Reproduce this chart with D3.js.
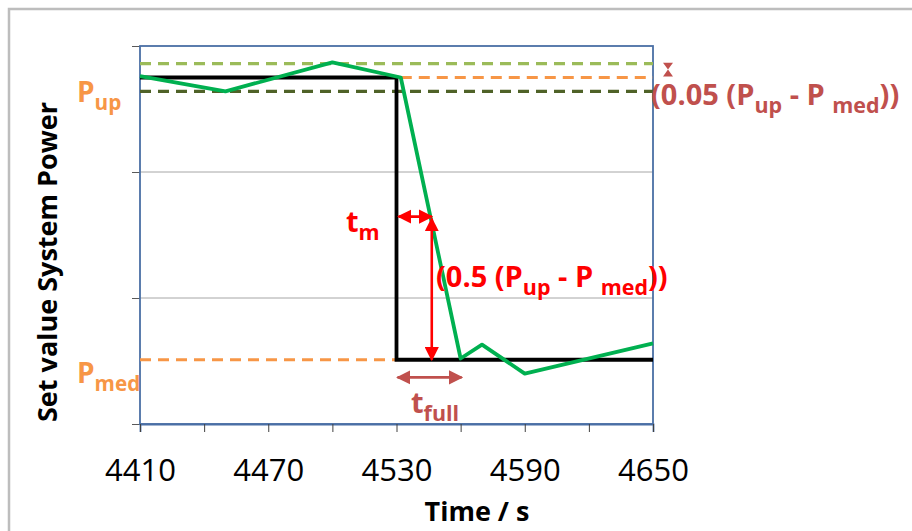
<!DOCTYPE html>
<html>
<head>
<meta charset="utf-8">
<script src="https://cdn.jsdelivr.net/npm/d3@7"></script>
<style>
  body { margin: 0; background: #fff; }
  svg { display: block; font-family: "Open Sans", sans-serif; }
</style>
</head>
<body>
<div id="chart"></div>
<script>
// values
var timeTicks = [4410, 4470, 4530, 4590, 4650];
var minorTicks = [4410, 4440, 4470, 4500, 4530, 4560, 4590, 4620, 4650];
var setTime  = [4410, 4530, 4530, 4650];
var setValue = [275, 275, 51, 51];
var measTime  = [4410, 4450, 4500, 4532, 4560, 4570, 4590, 4650];
var measValue = [276, 264, 287, 275, 52, 63, 40, 64];
var pUp = 275, pMed = 51;
var bandHigh = 286, bandLow = 264;
var tMid = 4546.5, tFull = 4560, tStep = 4530, tReach = 4532;

var w = 912, h = 531;
var mLeft = 140, mRight = 653, mTop = 46, mBottom = 424;

var svg = d3.select("#chart").append("svg")
  .attr("width", w).attr("height", h);

// grey frame of the picture
svg.append("path")
  .attr("d", "M9,531 V9 H912")
  .attr("fill", "none").attr("stroke", "#bdbdbd").attr("stroke-width", 2.5);

var xScale = d3.scaleLinear().domain([4410, 4650]).range([mLeft, mRight]);
var yScale = d3.scaleLinear().domain([0, 300]).range([mBottom, mTop]);

// gridlines
svg.append("g").selectAll("line")
  .data([100, 200]).enter().append("line")
  .attr("x1", mLeft).attr("x2", mRight)
  .attr("y1", function(d) { return yScale(d); })
  .attr("y2", function(d) { return yScale(d); })
  .attr("stroke", "#a6a6a6").attr("stroke-width", 1);

// y ticks (no labels)
svg.append("g")
  .attr("transform", "translate(" + mLeft + ",0)")
  .call(d3.axisLeft(yScale).tickValues([0, 100, 200, 300]).tickSize(8).tickFormat(""))
  .call(function(g) {
    g.select(".domain").remove();
    g.selectAll("line").attr("stroke", "#595959");
  });

// plot frame
svg.append("rect")
  .attr("x", mLeft).attr("y", mTop)
  .attr("width", mRight - mLeft).attr("height", mBottom - mTop)
  .attr("fill", "none").attr("stroke", "#4a6fa5").attr("stroke-width", 1.8);

// x axis: minor ticks, then labels
svg.append("g")
  .attr("transform", "translate(0," + mBottom + ")")
  .call(d3.axisBottom(xScale).tickValues(minorTicks).tickSize(8).tickFormat(""))
  .call(function(g) {
    g.select(".domain").attr("stroke", "#4a6fa5").attr("stroke-width", 1.8);
    g.selectAll("line").attr("stroke", "#404040");
  });

svg.append("g")
  .attr("transform", "translate(0," + mBottom + ")")
  .call(d3.axisBottom(xScale).tickValues(timeTicks).tickSize(0).tickPadding(35).tickFormat(d3.format("d")))
  .call(function(g) {
    g.select(".domain").remove();
    g.attr("font-family", "Open Sans").attr("font-size", 31);
    g.selectAll("text").attr("fill", "#000");
  });

var line = d3.line()
  .x(function(d) { return xScale(d[0]); })
  .y(function(d) { return yScale(d[1]); });

function hline(v, t0, t1, color) {
  svg.append("line")
    .attr("x1", xScale(t0)).attr("x2", xScale(t1))
    .attr("y1", yScale(v)).attr("y2", yScale(v))
    .attr("stroke", color).attr("stroke-width", 3.2)
    .attr("stroke-dasharray", "11,7");
}

// tolerance band and levels
hline(bandHigh, 4410, 4650, "#9bbb59");
hline(bandLow, 4410, 4650, "#4f6228");
hline(pUp, tReach, 4650, "#f79646");
hline(pMed, 4410, tStep, "#f79646");

// set value (black) and measured (green)
svg.append("path")
  .datum(d3.zip(setTime, setValue))
  .attr("d", line)
  .attr("fill", "none").attr("stroke", "#000").attr("stroke-width", 3.8);

svg.append("path")
  .datum(d3.zip(measTime, measValue))
  .attr("d", line)
  .attr("fill", "none").attr("stroke", "#00b050").attr("stroke-width", 3.8)
  .attr("stroke-linejoin", "round");

// arrow heads
var defs = svg.append("defs");
function marker(id, color) {
  defs.append("marker")
    .attr("id", id).attr("viewBox", "0 0 10 10")
    .attr("refX", 9).attr("refY", 5)
    .attr("markerWidth", 5.5).attr("markerHeight", 5.5)
    .attr("markerUnits", "strokeWidth")
    .attr("orient", "auto-start-reverse")
    .append("path").attr("d", "M0,0 L10,5 L0,10 z").attr("fill", color);
}
marker("arRed", "#ff0000");
marker("arBrown", "#c0504d");

function arrow(x1, y1, x2, y2, color, id, both) {
  var a = svg.append("line")
    .attr("x1", x1).attr("y1", y1).attr("x2", x2).attr("y2", y2)
    .attr("stroke", color).attr("stroke-width", 2.6)
    .attr("marker-end", "url(#" + id + ")");
  if (both) a.attr("marker-start", "url(#" + id + ")");
}

var yMid = yScale((pUp + pMed) / 2);
arrow(xScale(tStep) + 2, yMid - 2, xScale(tMid), yMid - 2, "#ff0000", "arRed", true);
arrow(xScale(tMid), yScale(pMed), xScale(tMid), yMid, "#ff0000", "arRed", true);
arrow(xScale(tStep) + 1, yScale(37), xScale(tFull) + 1, yScale(37), "#c0504d", "arBrown", true);

// tiny hourglass marker for the 5 % band
var hx = 668, hy0 = yScale(bandHigh) - 1, hy1 = yScale(pUp) - 1, hm = (hy0 + hy1) / 2;
svg.append("path")
  .attr("d", "M" + (hx - 5) + "," + hy0 + " H" + (hx + 5) + " L" + hx + "," + hm + " Z" +
             "M" + (hx - 5) + "," + hy1 + " H" + (hx + 5) + " L" + hx + "," + hm + " Z")
  .attr("fill", "#c0504d");

// text with subscripts
function label(x, y, color, parts, size, anchor) {
  var t = svg.append("text")
    .attr("x", x).attr("y", y)
    .attr("fill", color)
    .attr("font-weight", "bold")
    .attr("font-size", size)
    .attr("text-anchor", anchor || "start");
  var shift = 0;
  parts.forEach(function(p) {
    var s = p[1] ? 8 : 0;
    t.append("tspan")
      .attr("dy", s - shift)
      .attr("font-size", p[1] ? size * 0.74 : size)
      .text(p[0]);
    shift = s;
  });
  return t;
}

label(77, 102, "#f79646", [["P"], ["up", 1]], 28);
label(77, 383, "#f79646", [["P"], ["med", 1]], 28);
label(346, 232, "#ff0000", [["t"], ["m", 1]], 29);
label(436, 287, "#ff0000", [["(0.5 (P"], ["up", 1], [" - P "], ["med", 1], ["))"]], 29);
label(411, 413, "#c0504d", [["t"], ["full", 1]], 29);
label(651, 105, "#c0504d", [["(0.05 (P"], ["up", 1], [" - P "], ["med", 1], ["))"]], 29);

// axis titles
svg.append("text")
  .attr("x", 477).attr("y", 521)
  .attr("text-anchor", "middle")
  .attr("font-size", 27).attr("font-weight", "bold")
  .text("Time / s");

svg.append("text")
  .attr("transform", "translate(57,262) rotate(-90)")
  .attr("text-anchor", "middle")
  .attr("font-size", 27).attr("font-weight", "bold")
  .text("Set value System Power");
</script>
</body>
</html>
